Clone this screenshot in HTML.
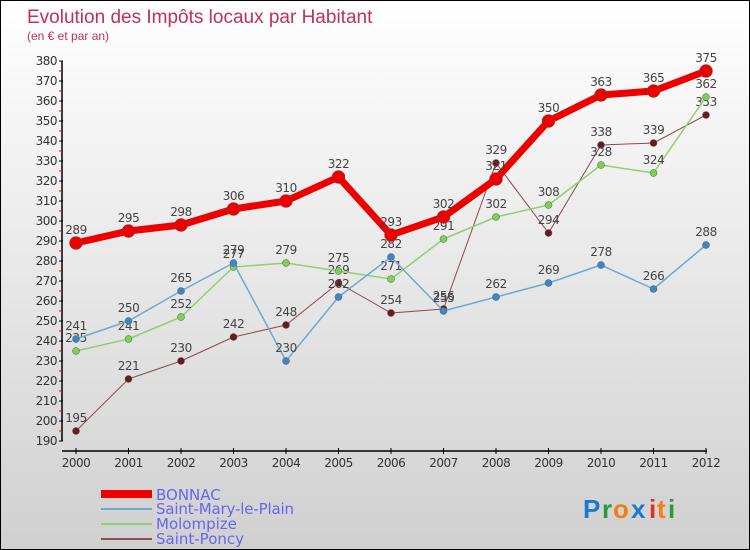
<!DOCTYPE html>
<html><head><meta charset="utf-8"><style>
body{margin:0}
#c{width:748px;height:548px;border:1px solid #000;background:linear-gradient(#fff,#d0d0d0);position:relative;font-family:"DejaVu Sans","Liberation Sans",sans-serif;overflow:hidden}
</style></head><body>
<div id="c">
<svg id="s" width="748" height="548" xmlns="http://www.w3.org/2000/svg" font-family="DejaVu Sans, Liberation Sans, sans-serif">
<text x="26" y="22" font-size="19" fill="#c0305a" font-family="Liberation Sans, sans-serif">Evolution des Impôts locaux par Habitant</text>
<text x="26" y="39" font-size="12" fill="#c0305a" font-family="Liberation Sans, sans-serif">(en € et par an)</text>
<g id="axes"></g><g id="series"></g>
<g>
<rect x="100" y="489" width="51" height="8" fill="#e00"/>
<text x="155" y="499" font-size="15" fill="#6666ee">BONNAC</text>
<rect x="100" y="507" width="51" height="2" fill="#6fa8d0"/>
<text x="155" y="513" font-size="15" fill="#6666ee" textLength="138">Saint-Mary-le-Plain</text>
<rect x="100" y="522" width="51" height="2" fill="#90d070"/>
<text x="155" y="528" font-size="15" fill="#6666ee">Molompize</text>
<rect x="100" y="537" width="51" height="2" fill="#8a5050"/>
<text x="155" y="543" font-size="15" fill="#6666ee">Saint-Poncy</text>
</g>
<g font-size="26" font-family="Liberation Sans, sans-serif" font-weight="bold">
<text x="582" y="517" fill="#1a7ad0">P</text><text x="601" y="517" fill="#2a9a3a">r</text><text x="612" y="517" fill="#f08010">o</text><text x="630" y="517" fill="#1a7ad0">x</text><text x="648" y="517" fill="#e03020">i</text><text x="656" y="517" fill="#f08010">t</text><text x="667" y="517" fill="#2a9a3a">i</text>
</g>
</svg>
</div>
<script>
const years=[2000,2001,2002,2003,2004,2005,2006,2007,2008,2009,2010,2011,2012];
const bonnac=[289,295,298,306,310,322,293,302,321,350,363,365,375];
const saintMary=[241,250,265,279,230,262,282,255,262,269,278,266,288];
const molompize=[235,241,252,277,279,275,271,291,302,308,328,324,362];
const saintPoncy=[195,221,230,242,248,269,254,256,329,294,338,339,353];
const yTicks=[190,200,210,220,230,240,250,260,270,280,290,300,310,320,330,340,350,360,370,380];
const NS="http://www.w3.org/2000/svg";
const X=i=>75+i*52.5, Y=v=>60+(380-v)*2;
function mk(t,a,p){const e=document.createElementNS(NS,t);for(const k in a)e.setAttribute(k,a[k]);p.appendChild(e);return e;}
const ax=document.getElementById('axes');
mk('line',{x1:61,y1:Y(380),x2:61,y2:Y(190),stroke:'#000','stroke-width':1.5},ax);
mk('line',{x1:61,y1:450,x2:706,y2:450,stroke:'#000','stroke-width':1.5},ax);
yTicks.forEach(v=>{
 mk('line',{x1:58,y1:Y(v),x2:62,y2:Y(v),stroke:'#000'},ax);
 if(v<380)mk('line',{x1:58,y1:Y(v+5),x2:61,y2:Y(v+5),stroke:'#e00'},ax);
 const t=mk('text',{x:56,y:Y(v)+4,'text-anchor':'end','font-size':12,fill:'#333','letter-spacing':'-0.5'},ax);t.textContent=v;
 
 
});
years.forEach((y,i)=>{
 mk('line',{x1:X(i),y1:447,x2:X(i),y2:453,stroke:'#000'},ax);
 const t=mk('text',{x:X(i),y:466,'text-anchor':'middle','font-size':12,fill:'#333','letter-spacing':'-0.5'},ax);t.textContent=y;
 
 
});
const sg=document.getElementById('series');
function series(d,color,w,r,name,dot){
 const g=mk('g',{},sg);
 
 
 mk('polyline',{points:d.map((v,i)=>X(i)+','+Y(v)).join(' '),fill:'none',stroke:color,'stroke-width':w,'stroke-linejoin':'round'},g);
 d.forEach((v,i)=>{
  const c=mk('circle',{cx:X(i),cy:Y(v),r:r,fill:dot,stroke:'#555','stroke-width':0.5},g);
  
  
  const t=mk('text',{x:X(i),y:Y(v)-9,'text-anchor':'middle','font-size':12,fill:'#444','letter-spacing':'-0.5'},g);t.textContent=v;
  
  
 });
}
series(saintPoncy,'#8a4a4a',1,3.5,'series-saint-poncy','#6a1a1a');
series(molompize,'#90d070',1.5,3.5,'series-molompize','#80d050');
series(saintMary,'#6fa8d0',1.5,3.5,'series-saint-mary','#3a88c8');
series(bonnac,'#e00',7,6.5,'series-bonnac','#e00');
</script>
</body></html>
